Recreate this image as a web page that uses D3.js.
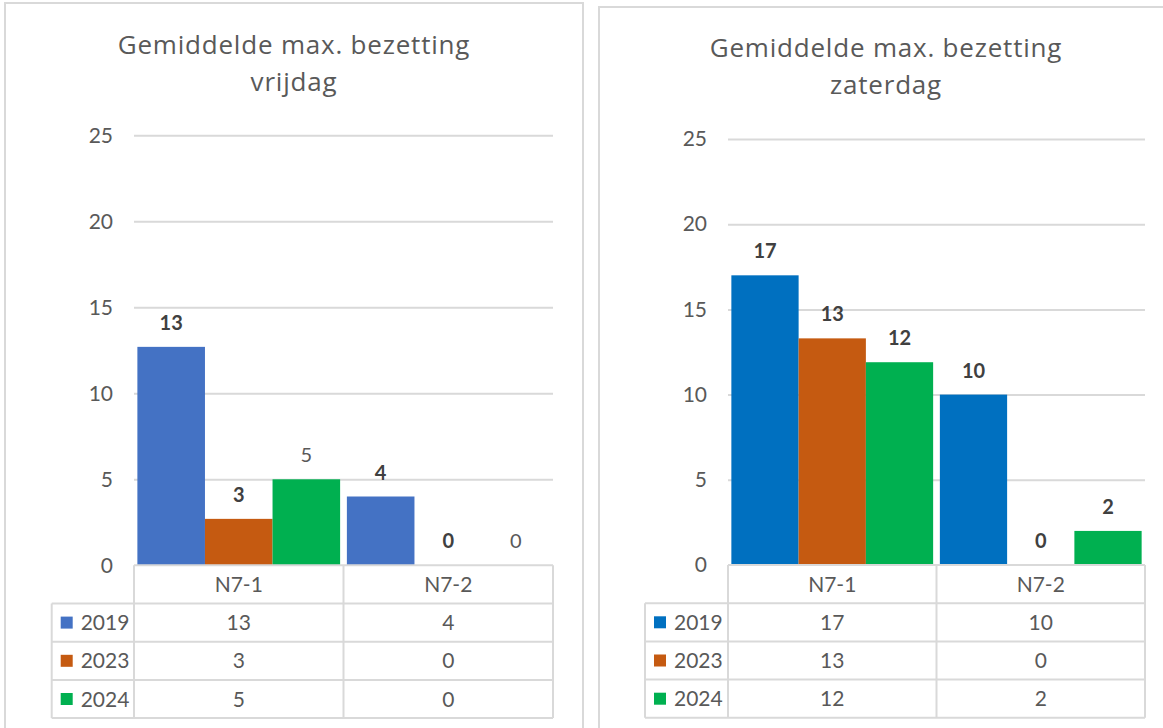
<!DOCTYPE html>
<html>
<head>
<meta charset="utf-8">
<script src="https://cdn.jsdelivr.net/npm/d3@7/dist/d3.min.js"></script>
<style>
  html, body { margin: 0; padding: 0; background: #ffffff; }
  svg { display: block; }
  text { font-family: Lato, "Open Sans", "DejaVu Sans", sans-serif; }
</style>
</head>
<body>
<svg id="chart" width="1163" height="728"></svg>
<script>
// ---------- DATA ----------
const categories = ["N7-1", "N7-2"];
const seriesNames = ["2019", "2023", "2024"];
const yTicks = [0, 5, 10, 15, 20, 25];

const vrijdagTitle = ["Gemiddelde max. bezetting", "vrijdag"];
const vrijdag2019 = [12.7, 4.0];
const vrijdag2023 = [2.7, 0];
const vrijdag2024 = [5.0, 0];
const vrijdagBold = [true, true, false];

const zaterdagTitle = ["Gemiddelde max. bezetting", "zaterdag"];
const zaterdag2019 = [17.0, 10.0];
const zaterdag2023 = [13.3, 0];
const zaterdag2024 = [11.9, 2.0];
const zaterdagBold = [true, true, true];

// ---------- STYLE ----------
const vrijdagColors = ["#4472C4", "#C55A11", "#00B050"];
const zaterdagColors = ["#0070C0", "#C55A11", "#00B050"];
const gridColor = "#d9d9d9";
const textColor = "#595959";
const labelDark = "#404040";

const svg = d3.select("#chart");
const fmt = d3.format(".0f");

function drawPanel(cfg) {
  const g = svg.append("g");

  // panel border
  g.append("rect")
    .attr("x", cfg.box[0]).attr("y", cfg.box[1])
    .attr("width", cfg.box[2]).attr("height", cfg.box[3])
    .attr("fill", "#fff").attr("stroke", gridColor).attr("stroke-width", 2);

  // title
  const t = g.append("text")
    .attr("text-anchor", "middle")
    .attr("fill", textColor)
    .attr("font-size", 26)
    .attr("letter-spacing", 0.8)
    .style("font-family", "'Open Sans', Lato, sans-serif");
  cfg.title.forEach((line, i) => {
    t.append("tspan").attr("x", cfg.titleX).attr("y", cfg.titleY + i * 37).text(line);
  });

  const y = d3.scaleLinear().domain([0, 25]).range([cfg.y0, cfg.y25]);
  const x0 = d3.scaleBand().domain(categories).range([cfg.left, cfg.right]).paddingInner(0).paddingOuter(0);
  const x1 = d3.scaleBand().domain(seriesNames).range([0, x0.bandwidth()]).paddingInner(0).paddingOuter(0.05);

  // gridlines
  const grid = g.append("g")
    .attr("transform", `translate(${cfg.left},0)`)
    .call(d3.axisLeft(y).tickValues(yTicks.filter(v => v > 0)).tickSize(-(cfg.right - cfg.left)).tickFormat(""));
  grid.select(".domain").remove();
  grid.selectAll("line").attr("stroke", gridColor).attr("stroke-width", 2);

  // y tick labels
  const ax = g.append("g")
    .attr("transform", `translate(${cfg.left},0)`)
    .call(d3.axisLeft(y).tickValues(yTicks).tickSize(0).tickPadding(21));
  ax.select(".domain").remove();
  ax.selectAll("text")
    .attr("font-size", 21).attr("fill", textColor)
    .style("font-family", "Lato, 'Open Sans', sans-serif");

  // bars
  const rows = cfg.series.map((vals, si) => ({ name: seriesNames[si], si, vals }));
  const flat = [];
  rows.forEach(r => r.vals.forEach((v, ci) => flat.push({ s: r.name, si: r.si, c: categories[ci], v })));

  g.append("g").selectAll("rect").data(flat).join("rect")
    .attr("x", d => x0(d.c) + x1(d.s))
    .attr("width", x1.bandwidth())
    .attr("y", d => y(d.v))
    .attr("height", d => y(0) - y(d.v))
    .attr("fill", d => cfg.colors[d.si]);

  // data labels
  g.append("g").selectAll("text").data(flat).join("text")
    .attr("x", d => x0(d.c) + x1(d.s) + x1.bandwidth() / 2)
    .attr("y", d => y(d.v) - 17)
    .attr("text-anchor", "middle")
    .attr("font-size", 20)
    .attr("font-weight", d => cfg.bold[d.si] ? "bold" : "normal")
    .attr("fill", d => cfg.bold[d.si] ? labelDark : textColor)
    .text(d => fmt(d.v));

  // data table
  const rowH = 38.2;
  const tTop = y(0);
  const lines = g.append("g").attr("stroke", gridColor).attr("stroke-width", 2).attr("fill", "none");
  lines.append("line").attr("x1", cfg.left).attr("x2", cfg.right).attr("y1", tTop).attr("y2", tTop);
  for (let i = 1; i <= seriesNames.length + 1; i++) {
    lines.append("line").attr("x1", cfg.legendLeft).attr("x2", cfg.right)
      .attr("y1", tTop + i * rowH).attr("y2", tTop + i * rowH);
  }
  const bottom = tTop + (seriesNames.length + 1) * rowH;
  lines.append("line").attr("x1", cfg.legendLeft).attr("x2", cfg.legendLeft).attr("y1", tTop + rowH).attr("y2", bottom);
  [cfg.left, ...categories.map(c => x0(c) + x0.bandwidth())].forEach(xv => {
    lines.append("line").attr("x1", xv).attr("x2", xv).attr("y1", tTop).attr("y2", bottom);
  });

  // header texts
  g.append("g").selectAll("text").data(categories).join("text")
    .attr("x", c => x0(c) + x0.bandwidth() / 2)
    .attr("y", tTop + rowH / 2)
    .attr("dy", "0.36em")
    .attr("text-anchor", "middle")
    .attr("font-size", 21).attr("fill", textColor)
    .text(c => c);

  // table rows
  rows.forEach((r, i) => {
    const cy = tTop + (i + 1) * rowH + rowH / 2;
    g.append("rect")
      .attr("x", cfg.legendLeft + 9).attr("y", cy - 6)
      .attr("width", 12).attr("height", 12)
      .attr("fill", cfg.colors[r.si]);
    g.append("text")
      .attr("x", cfg.legendLeft + 29).attr("y", cy).attr("dy", "0.36em")
      .attr("font-size", 21).attr("fill", textColor)
      .text(r.name);
    r.vals.forEach((v, ci) => {
      g.append("text")
        .attr("x", x0(categories[ci]) + x0.bandwidth() / 2)
        .attr("y", cy).attr("dy", "0.36em")
        .attr("text-anchor", "middle")
        .attr("font-size", 21).attr("fill", textColor)
        .text(fmt(v));
    });
  });
}

drawPanel({
  box: [5, 3, 578, 760],
  title: vrijdagTitle, titleX: 294, titleY: 54,
  left: 134, right: 553, y0: 565.3, y25: 135.3,
  legendLeft: 51.7,
  series: [vrijdag2019, vrijdag2023, vrijdag2024],
  colors: vrijdagColors, bold: vrijdagBold
});

drawPanel({
  box: [599, 7, 600, 760],
  title: zaterdagTitle, titleX: 886, titleY: 57,
  left: 728, right: 1145, y0: 565, y25: 139,
  legendLeft: 645,
  series: [zaterdag2019, zaterdag2023, zaterdag2024],
  colors: zaterdagColors, bold: zaterdagBold
});
</script>
</body>
</html>
